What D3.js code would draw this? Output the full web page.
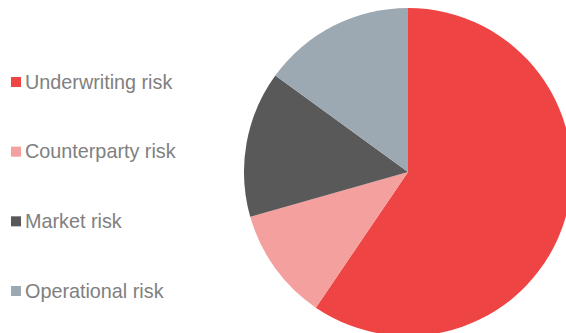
<!DOCTYPE html>
<html>
<head>
<meta charset="utf-8">
<script src="https://cdn.jsdelivr.net/npm/d3@7"></script>
<style>
  body { margin: 0; background: #fff; }
  svg { display: block; }
</style>
</head>
<body>
<svg id="drawing_region"></svg>
<script>
// chart data
const categories = ['Underwriting risk', 'Counterparty risk', 'Market risk', 'Operational risk'];
const values = [59.5, 11.1, 14.4, 15.0];
const colors = ['#ef4444', '#f4a09f', '#595959', '#9ca8b2'];

const width = 566, height = 333;
const cx = 408, cy = 172, radius = 164;

const svg = d3.select('#drawing_region')
    .attr('width', width)
    .attr('height', height);

const data = categories.map((c, i) => ({label: c, value: values[i], color: colors[i]}));

const pie = d3.pie()
    .sort(null)
    .value(d => d.value);

const arc = d3.arc()
    .innerRadius(0)
    .outerRadius(radius);

const chart = svg.append('g')
    .attr('transform', `translate(${cx}, ${cy})`);

chart.selectAll('path')
    .data(pie(data))
    .enter()
    .append('path')
    .attr('d', arc)
    .attr('fill', d => d.data.color);

// legend
const legendScale = d3.scalePoint()
    .domain(categories)
    .range([82, 291]);

const legend = svg.append('g');

const item = legend.selectAll('g')
    .data(data)
    .enter()
    .append('g')
    .attr('transform', d => `translate(0, ${legendScale(d.label)})`);

item.append('rect')
    .attr('x', 11)
    .attr('y', -5)
    .attr('width', 10)
    .attr('height', 10)
    .attr('fill', d => d.color);

item.append('text')
    .attr('x', 25)
    .attr('y', 6.5)
    .attr('font-family', 'Liberation Sans, Arial, sans-serif')
    .attr('font-size', '19.8px')
    .attr('fill', '#808080')
    .text(d => d.label);
</script>
</body>
</html>
